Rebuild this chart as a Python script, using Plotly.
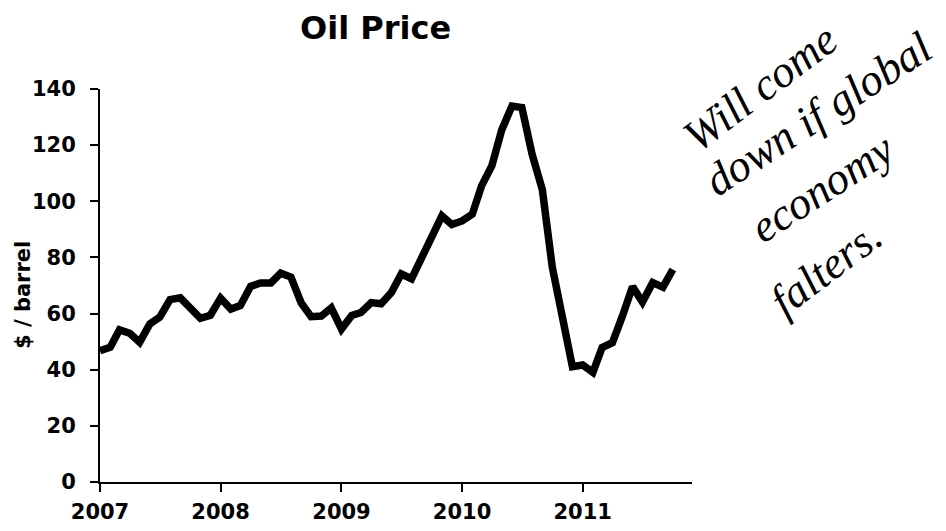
import pandas as pd
import plotly.graph_objects as go

# monthly oil price, $ / barrel
prices = [
    46.8, 48.0, 54.2, 53.0, 49.8, 56.3, 58.7, 65.0, 65.6, 62.4, 58.3, 59.4,
    65.5, 61.6, 62.9, 69.7, 70.9, 70.9, 74.4, 73.0, 63.8, 58.9, 59.1, 62.0,
    54.5, 59.3, 60.4, 63.9, 63.5, 67.5, 74.1, 72.4, 79.9, 85.8, 94.8, 91.7,
    93.0, 95.4, 105.5, 112.6, 125.4, 133.9, 133.4, 116.7, 104.1, 76.6, 57.3, 41.1,
    41.7, 39.1, 47.9, 49.6, 59.0, 69.6, 64.1, 71.0, 69.4, 75.7,
]
months = pd.date_range("2007-01-01", periods=len(prices), freq="MS")

x_range = ["2007-01-01", "2011-11-28"]
y_ticks = [0, 20, 40, 60, 80, 100, 120, 140]

note_lines = ["Will come", "down if global", "economy", "falters."]

FONT = "DejaVu Sans"
OFF = 8  # the page body adds an 8px margin around the plot div
W, H = 946 - OFF, 531 - OFF
L, R, T, B = 100 - OFF, 254, 89 - OFF, 49


def pix(px, py):
    # page pixel -> paper coords (paper spans the plot area)
    px, py = px - OFF, py - OFF
    return (px - L) / (W - L - R), (H - B - py) / (H - T - B)


fig = go.Figure()
fig.add_trace(go.Scatter(
    x=months, y=prices, mode="lines",
    line=dict(color="black", width=7.5),
    showlegend=False, hoverinfo="skip",
))

axis_common = dict(showgrid=False, zeroline=False, showline=True,
                   linecolor="black", linewidth=2, automargin=False,
                   tickcolor="black", tickwidth=2, ticklen=8)

fig.update_layout(
    width=W, height=H,
    margin=dict(l=L, r=R, t=T, b=B),
    paper_bgcolor="white", plot_bgcolor="white",
    font=dict(family=FONT, color="black"),
    xaxis=dict(
        type="date", range=x_range, dtick="M12", tick0="2007-01-01",
        tickformat="%Y", ticks="outside", ticklabelstandoff=2,
        tickfont=dict(size=21, family=FONT, weight="bold"),
        **axis_common,
    ),
    yaxis=dict(
        range=[0, 140], tickvals=y_ticks, ticks="outside",
        ticklabelstandoff=10,
        tickfont=dict(size=21, family=FONT, weight="bold"),
        **axis_common,
    ),
    # overlay axes just to get the ticks crossing the axis lines
    xaxis2=dict(type="date", range=x_range, dtick="M12", tick0="2007-01-01",
                overlaying="x", anchor="y", side="bottom", ticks="inside",
                showticklabels=False, **axis_common),
    yaxis2=dict(range=[0, 140], tickvals=y_ticks, overlaying="y", anchor="x",
                side="left", ticks="inside", showticklabels=False,
                **axis_common),
)

tx, ty = pix(375, 28)
fig.add_annotation(
    text="Oil Price", xref="paper", yref="paper", x=tx, y=ty,
    showarrow=False, xanchor="center", yanchor="middle",
    font=dict(size=32, family=FONT, weight="bold"),
)

ax_, ay_ = pix(23, 295)
fig.add_annotation(
    text="$ / barrel", xref="paper", yref="paper", x=ax_, y=ay_,
    textangle=-90, showarrow=False, xanchor="center", yanchor="middle",
    font=dict(size=21, family=FONT, weight="bold"),
)

# handwritten note, tilted up to the right
note_pos = [(760, 88, -37), (818, 114, -33), (822, 188, -33), (826, 268, -37)]
for txt, (px, py, ang) in zip(note_lines, note_pos):
    nx, ny = pix(px, py)
    fig.add_annotation(
        text=txt, xref="paper", yref="paper", x=nx, y=ny, textangle=ang,
        showarrow=False, xanchor="center", yanchor="middle",
        font=dict(size=45, family="Liberation Serif", style="italic"),
    )

fig.write_html("out.html")
